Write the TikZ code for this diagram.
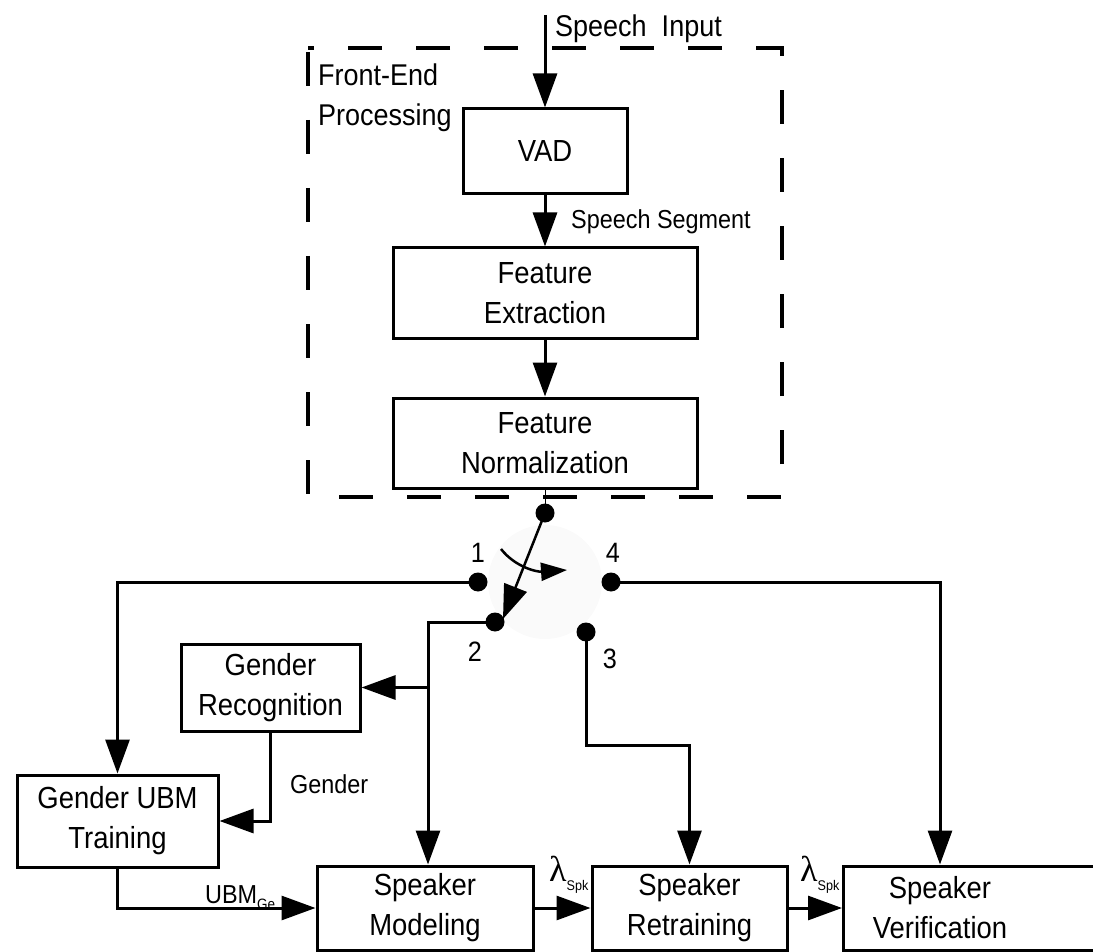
\documentclass[tikz,border=0pt]{standalone}
\usepackage{fontspec}
\setmainfont[FakeStretch=0.9]{Liberation Sans}
\newfontfamily\lamfont{Liberation Serif}
\usetikzlibrary{arrows.meta}
\tikzset{
  box/.style={draw, line width=3pt, inner sep=0pt, align=center, font=\fontsize{30.5}{40}\selectfont},
  arr/.style={line width=3pt, -{Triangle[length=34pt,width=24pt]}},
  dot/.style={circle, fill=black, minimum size=19pt, inner sep=0pt},
  lbl/.style={inner sep=0pt, font=\fontsize{26}{30}\selectfont},
  num/.style={inner sep=0pt, font=\fontsize{28}{30}\selectfont},
}
\newcommand{\lamspk}{{\lamfont\fontsize{36}{36}\selectfont λ}\raisebox{-9pt}{\fontsize{14}{14}\selectfont Spk}}
\begin{document}
\begin{tikzpicture}[x=1pt, y=-1pt]
\useasboundingbox (0,0) rectangle (1093,952);
% faint switch disc
\fill[black!2] (545,582) circle (57);
% front-end dashed frame
\draw[line width=3.5pt, dash pattern=on 34pt off 34pt, dash phase=-4pt] (308,48) rectangle (782,497);
\node[inner sep=0pt, anchor=north west, align=left, font=\fontsize{30}{40}\selectfont] (fep) at (318,64) {Front-End\\Processing};
% boxes
\node[box, minimum width=164pt, minimum height=85pt] (vad) at (545,151.5) {VAD};
\node[box, minimum width=304pt, minimum height=90pt] (fe) at (545,293) {Feature\\Extraction};
\node[box, minimum width=304pt, minimum height=90pt] (fn) at (545,443) {Feature\\Normalization};
\node[box, minimum width=179pt, minimum height=87pt] (grec) at (270.5,687.5) {Gender\\Recognition};
\node[box, minimum width=201pt, minimum height=92pt] (gubm) at (117.5,821) {Gender UBM\\Training};
\node[box, minimum width=216pt, minimum height=84pt] (smod) at (425,908) {Speaker\\Modeling};
\node[box, minimum width=195pt, minimum height=84pt] (sret) at (689.5,908) {Speaker\\Retraining};
\node[box, minimum width=260pt, minimum height=84pt, anchor=west] (verbox) at (842,908) {};
\node[box, draw=none, minimum width=190pt, minimum height=84pt] (ver) at (940,908) {Speaker\\Verification};
% input
\coordinate (in) at (545,15);
\node[inner sep=0pt, anchor=base west, font=\fontsize{30}{30}\selectfont] (sin) at (555,37) {Speech~ Input};
\draw[arr] (in) -- (vad.north);
\draw[arr] (vad) -- (fe);
\node[lbl, anchor=base west] (sseg) at (571,229) {Speech Segment};
\draw[arr] (fe) -- (fn);
% switch
\node[dot] (d0) at (545,513) {};
\node[dot] (d1) at (478,582) {};
\node[dot] (d4) at (611,582) {};
\node[dot] (d2) at (495,622) {};
\node[dot] (d3) at (586,632) {};
\node[num] (n1) at (478,553) {1};
\node[num] (n4) at (613,553) {4};
\node[num] (n2) at (475,652) {2};
\node[num] (n3) at (610,659) {3};
\draw[line width=1pt] (fn.south) -- (d0.center);
\coordinate (armtip) at (503,619);
\draw[line width=2.5pt, -{Triangle[length=34pt,width=24pt]}] (d0.center) -- (armtip);
\coordinate (ca) at (501,549);
\coordinate (cb) at (567,570);
\draw[line width=2.5pt, -{Triangle[length=26pt,width=18pt]}] (ca) .. controls (516,568) and (538,572) .. (cb);
% wiring
\draw[arr] (d1.center) -| (gubm.north);
\coordinate (j2) at (428,622);
\draw[arr] (d2.center) -- (j2) -- (j2 |- smod.north);
\draw[arr] (j2 |- grec.east) -- (grec.east);
\draw[arr] (grec.south) |- (gubm.east);
\node[lbl, anchor=base west] (glbl) at (290,793) {Gender};
\draw[arr] (gubm.south) |- (smod.west);
\node[inner sep=0pt, anchor=base west] (ubml) at (205,903) {\fontsize{26}{26}\selectfont UBM\raisebox{-6pt}{\fontsize{15}{15}\selectfont Ge}};
\draw[arr] (smod) -- (sret);
\draw[arr] (sret) -- (verbox.west);
\node[inner sep=0pt, anchor=base west] (lam1) at (549,881) {\lamspk};
\node[inner sep=0pt, anchor=base west] (lam2) at (800,881) {\lamspk};
\coordinate (c3) at (586,745);
\draw[arr] (d3.center) -- (c3) -| (sret.north);
\draw[arr] (d4.center) -| (ver.north);
\end{tikzpicture}
\end{document}
